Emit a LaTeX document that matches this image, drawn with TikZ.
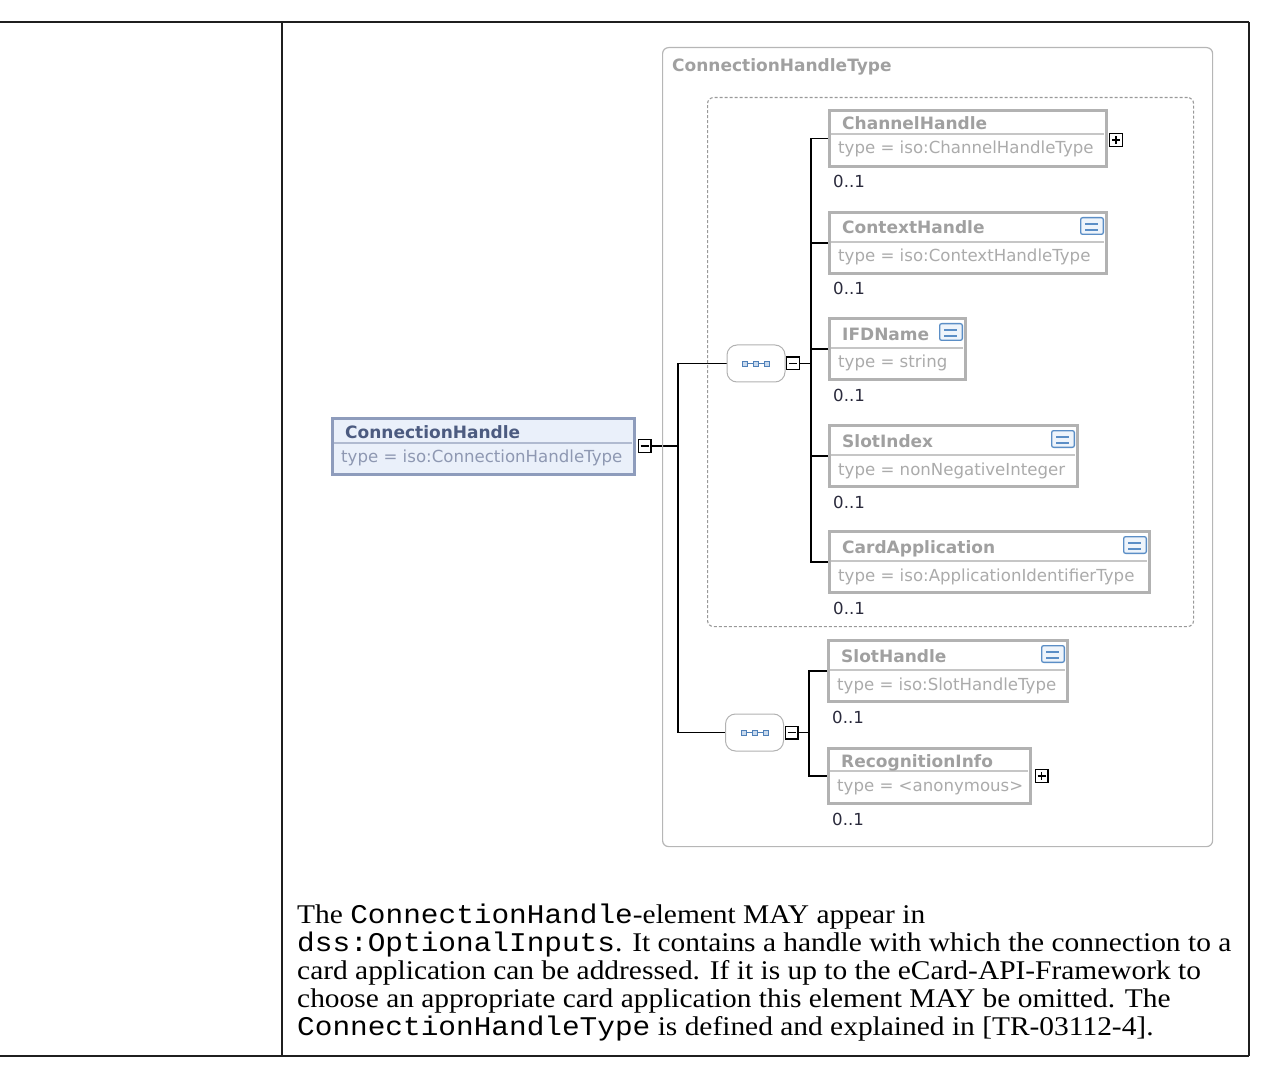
\documentclass[tikz,border=0pt]{standalone}
\usepackage{fontspec}
\newfontfamily\docserif{Liberation Serif}[FakeStretch=1.09]
\newfontfamily\docmono{Liberation Mono}[FakeStretch=1.09]
\newfontfamily\xsf{DejaVu Sans}
\definecolor{elgrey}{HTML}{B2B2B2}
\definecolor{divgrey}{HTML}{C6C6C6}
\definecolor{titlegrey}{HTML}{A0A0A0}
\definecolor{typegrey}{HTML}{ABABAB}
\definecolor{occcol}{HTML}{2A2A3C}
\definecolor{cRootFill}{HTML}{EAF0FA}
\definecolor{cRootBorder}{HTML}{8E9CBC}
\definecolor{cRootTitle}{HTML}{4C5B80}
\definecolor{cRootType}{HTML}{8E98B2}
\definecolor{outergrey}{HTML}{B6B6B6}
\definecolor{dashgrey}{HTML}{999999}
\definecolor{iconblue}{HTML}{5B8EC6}
\definecolor{iconfill}{HTML}{EEF4FB}
\definecolor{seqblue}{HTML}{4F80B8}
\definecolor{seqfill}{HTML}{C9DAEE}
\pgfdeclarelayer{bg}
\pgfsetlayers{bg,main}
% element box: name, x, y, w, h, title, type, title-baseline offset, divider offset
\newcommand\xelem[9]{%
  \node[elbox, minimum width=#4pt-3pt, minimum height=#5pt-3pt] (#1) at (#2,#3) {};
  \draw[divl] (#2+3,#3+#9) -- (#2+#4-4,#3+#9);
  \node[eltitle] (#1-t) at (#2+14,#3+#8) {#6};
  \node[eltype] (#1-ty) at (#2+10,#3+#9+20) {#7};
  \node[occ] (#1-o) at (#2+5,#3+#5+20) {0..1};
}
% documentation icon: name, box right edge, box top
\newcommand\docicon[3]{%
  \node[docbox] (#1) at (#2-28,#3+6) {};
  \draw[docline] (#2-23,#3+13) -- (#2-10,#3+13);
  \draw[docline] (#2-23,#3+19) -- (#2-10,#3+19);
}
\newcommand\plusbox[3]{%
  \node[pm] (#1) at (#2,#3) {};
  \draw[pmline] (#2-4,#3) -- (#2+4,#3);
  \draw[pmline] (#2,#3-4) -- (#2,#3+4);
}
\newcommand\minusbox[3]{%
  \node[pm] (#1) at (#2,#3) {};
  \draw[pmline] (#2-4,#3) -- (#2+4,#3);
}
\newcommand\seqcomp[3]{%
  \node[comp] (#1) at (#2,#3) {};
  \draw[seqline] (#2-11,#3) -- (#2+11,#3);
  \draw[seqsq] (#2-13.5,#3-2.5) rectangle ++(5,5);
  \draw[seqsq] (#2-2.5,#3-2.5) rectangle ++(5,5);
  \draw[seqsq] (#2+8.5,#3-2.5) rectangle ++(5,5);
}
\begin{document}
\begin{tikzpicture}[x=1pt,y=-1pt,
  tbl/.style={draw=black!88, line width=1.6pt},
  conn/.style={draw=black, line width=1.6pt},
  elbox/.style={draw=elgrey, line width=3pt, fill=white, anchor=north west, inner sep=0pt},
  divl/.style={draw=divgrey, line width=1.3pt},
  eltitle/.style={anchor=base west, inner sep=0pt, text=titlegrey, font=\xsf\bfseries\fontsize{17}{20}\selectfont},
  eltype/.style={anchor=base west, inner sep=0pt, text=typegrey, font=\xsf\fontsize{16.6}{20}\selectfont},
  occ/.style={anchor=base west, inner sep=0pt, text=occcol, font=\xsf\fontsize{16.6}{20}\selectfont},
  pm/.style={draw=black, line width=1.4pt, fill=white, minimum size=12.6pt, inner sep=0pt},
  pmline/.style={draw=black, line width=1.4pt},
  docbox/.style={draw=iconblue, line width=1.3pt, fill=iconfill, rounded corners=2pt, anchor=north west, minimum width=22.7pt, minimum height=16.7pt, inner sep=0pt},
  docline/.style={draw=iconblue, line width=1.3pt},
  comp/.style={draw=elgrey, line width=1pt, fill=white, rounded corners=10pt, minimum width=58pt, minimum height=37pt, inner sep=0pt},
  seqline/.style={draw=seqblue, line width=1pt},
  seqsq/.style={draw=seqblue, fill=seqfill, line width=0.8pt},
  typebox/.style={draw=outergrey, line width=1.2pt, rounded corners=6pt, anchor=north west, inner sep=0pt},
  typelbl/.style={anchor=base west, inner sep=0pt, text=titlegrey, font=\xsf\bfseries\fontsize{17}{20}\selectfont},
  dashbox/.style={draw=dashgrey, line width=1.1pt, dash pattern=on 3pt off 2pt, rounded corners=6pt, anchor=north west, inner sep=0pt},
  rootbox/.style={draw=cRootBorder, line width=3pt, fill=cRootFill, anchor=north west, inner sep=0pt},
  rootdiv/.style={draw=cRootBorder!70, line width=1.3pt},
  rtitle/.style={anchor=base west, inner sep=0pt, text=cRootTitle, font=\xsf\bfseries\fontsize{17}{20}\selectfont},
  rtype/.style={anchor=base west, inner sep=0pt, text=cRootType, font=\xsf\fontsize{16.6}{20}\selectfont},
  para/.style={anchor=base west, inner sep=0pt, font=\docserif\fontsize{27}{28}\selectfont}
]
\useasboundingbox (0,0) rectangle (1275,1067);
% table rules
\draw[tbl] (0,22) -- (1249,22);
\draw[tbl] (0,1056) -- (1249,1056);
\draw[tbl] (282,22) -- (282,1056);
\draw[tbl] (1249,22) -- (1249,1056);
% complex type frame
\node[typebox, minimum width=550pt, minimum height=799pt] (ctype) at (662,47) {};
\node[typelbl] (ctypelbl) at (672,72) {ConnectionHandleType};
\node[dashbox, minimum width=486pt, minimum height=529pt] (seqgrp) at (707,97) {};
% root element
\node[rootbox, minimum width=302pt, minimum height=56pt] (root) at (331,417) {};
\draw[rootdiv] (334,443) -- (632,443);
\node[rtitle] (root-t) at (345,438) {ConnectionHandle};
\node[rtype] (root-ty) at (341,462) {type = iso:ConnectionHandleType};
\minusbox{rootm}{644.5}{446}
% compositors
\seqcomp{comp1}{756}{363.5}
\minusbox{c1m}{793}{363.5}
\seqcomp{comp2}{754.5}{732.5}
\minusbox{c2m}{791.5}{732.5}
% child elements
\xelem{ch}{828}{109}{280}{59}{ChannelHandle}{type = iso:ChannelHandleType}{21}{25}
\plusbox{chp}{1116}{140}
\xelem{cx}{828}{211}{280}{64}{ContextHandle}{type = iso:ContextHandleType}{23}{31}
\docicon{cxd}{1108}{211}
\xelem{ifd}{828}{317}{139}{64}{IFDName}{type = string}{24}{31}
\docicon{ifdd}{967}{317}
\xelem{si}{828}{424}{251}{64}{SlotIndex}{type = nonNegativeInteger}{23}{31}
\docicon{sid}{1079}{424}
\xelem{ca}{828}{530}{323}{64}{CardApplication}{type = iso:ApplicationIdentifierType}{23}{31}
\docicon{cad}{1151}{530}
\xelem{sh}{827}{639}{242}{64}{SlotHandle}{type = iso:SlotHandleType}{23}{31}
\docicon{shd}{1069}{639}
\xelem{ri}{827}{747}{205}{58}{RecognitionInfo}{type = <anonymous>}{20}{24}
\plusbox{rip}{1041.5}{776}
% connectors
\coordinate (j0) at (678,446);
\coordinate (j1) at (811,363.5);
\coordinate (j2) at (809,732.5);
\begin{pgfonlayer}{bg}
\draw[conn] (rootm.east) -- (j0);
\draw[conn] (j0) |- (comp1.west);
\draw[conn] (j0) |- (comp2.west);
\draw[conn] (c1m.east) -- (j1);
\foreach \n in {ch,cx,ifd,si,ca} {\draw[conn] (j1) |- (\n.west);}
\draw[conn] (c2m.east) -- (j2);
\foreach \n in {sh,ri} {\draw[conn] (j2) |- (\n.west);}
\end{pgfonlayer}
% description text
\node[para] (p1) at (297,923) {The {\docmono ConnectionHandle}-element MAY appear in};
\node[para] (p2) at (297,951) {{\docmono dss:OptionalInputs}. It contains a handle with which the connection to a};
\node[para] (p3) at (297,979) {card application can be addressed. If it is up to the eCard-API-Framework to};
\node[para] (p4) at (297,1007) {choose an appropriate card application this element MAY be omitted. The};
\node[para] (p5) at (297,1035) {{\docmono ConnectionHandleType} is defined and explained in [TR-03112-4].};
\end{tikzpicture}
\end{document}
